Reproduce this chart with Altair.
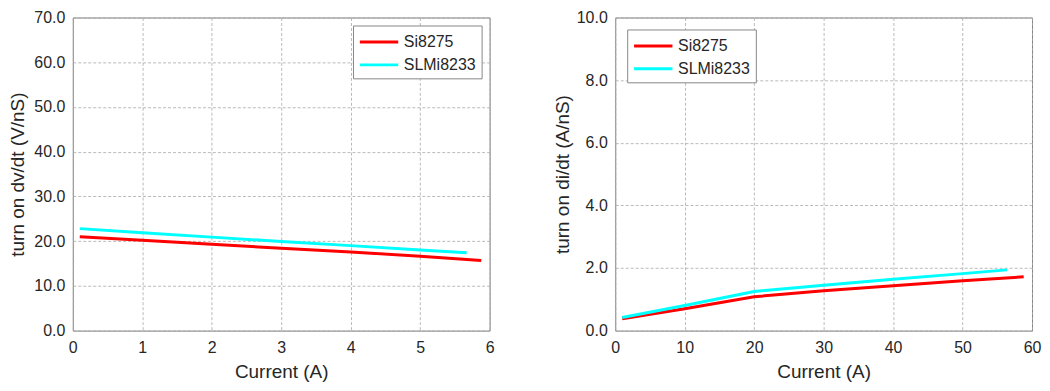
import altair as alt
import pandas as pd

series_names = ["Si8275", "SLMi8233"]
colors = ["#ff0000", "#00ffff"]

# Left: turn on dv/dt (V/nS) vs Current (A)
dv_si_x = [0.1, 1, 2, 3, 4, 5, 5.88]
dv_si_y = [21.0, 20.2, 19.3, 18.4, 17.6, 16.6, 15.7]
dv_slm_x = [0.1, 1, 2, 3, 4, 5, 5.67]
dv_slm_y = [22.8, 21.9, 20.9, 19.9, 19.0, 18.0, 17.4]

# Right: turn on di/dt (A/nS) vs Current (A)
di_si_x = [1, 10, 20, 30, 40, 50, 58.8]
di_si_y = [0.38, 0.70, 1.08, 1.27, 1.43, 1.59, 1.72]
di_slm_x = [1, 10, 20, 30, 40, 50, 56.4]
di_slm_y = [0.42, 0.80, 1.25, 1.45, 1.64, 1.82, 1.94]

left_x_ticks = [0, 1, 2, 3, 4, 5, 6]
left_y_ticks = [0, 10, 20, 30, 40, 50, 60, 70]
right_x_ticks = [0, 10, 20, 30, 40, 50, 60]
right_y_ticks = [0, 2, 4, 6, 8, 10]


def frame(pairs):
    rows = []
    for name, xs, ys in pairs:
        for i, (x, y) in enumerate(zip(xs, ys)):
            rows.append({"series": name, "x": x, "y": y, "order": i})
    return pd.DataFrame(rows)


df_left = frame([("Si8275", dv_si_x, dv_si_y), ("SLMi8233", dv_slm_x, dv_slm_y)])
df_right = frame([("Si8275", di_si_x, di_si_y), ("SLMi8233", di_slm_x, di_slm_y)])

FONT = "Liberation Sans"
TXT = "#262626"


def make_axis(values, fmt, title, is_y, title_pad):
    return alt.Axis(
        values=values,
        format=fmt,
        title=title,
        grid=True,
        gridColor="#a8a8a8",
        gridDash=[3, 2],
        gridWidth=0.8,
        domain=False,
        ticks=False,
        labelFont=FONT,
        labelFontSize=16,
        labelColor=TXT,
        labelPadding=8 if is_y else 9,
        titleFont=FONT,
        titleFontSize=19,
        titleFontWeight="normal",
        titleColor=TXT,
        titlePadding=title_pad,
        labelFlush=False,
        labelOverlap=False,
    )


def panel(df, xdom, ydom, xt, yt, ytitle, ytitle_pad, legend_orient, legend_off):
    return alt.Chart(df).mark_line(strokeWidth=3, clip=True).encode(
        x=alt.X("x:Q", scale=alt.Scale(domain=xdom, nice=False),
                axis=make_axis(xt, "d", "Current (A)", False, 7)),
        y=alt.Y("y:Q", scale=alt.Scale(domain=ydom, nice=False),
                axis=make_axis(yt, ".1f", ytitle, True, ytitle_pad)),
        color=alt.Color(
            "series:N",
            scale=alt.Scale(domain=series_names, range=colors),
            legend=alt.Legend(
                title=None,
                orient=legend_orient,
                offset=legend_off,
                symbolType="M-1,0H3",
                symbolStrokeWidth=3,
                symbolSize=370,
                labelFont=FONT,
                labelFontSize=16,
                labelColor=TXT,
                fillColor="white",
                strokeColor="#888888",
                padding=5,
                rowPadding=3,
                labelOffset=23,
            ),
        ),
        order="order:O",
    ).properties(width=418, height=314)


left = panel(df_left, [0, 6], [0, 70], left_x_ticks, left_y_ticks,
             "turn on dv/dt (V/nS)", 6, "top-right", 8)
right = panel(df_right, [0, 60], [0, 10], right_x_ticks, right_y_ticks,
              "turn on di/dt (A/nS)", 4, "top-left", 12)

chart = alt.hconcat(left, right, spacing=58).resolve_scale(
    color="independent"
).resolve_legend(color="independent").configure_view(
    stroke="#808080", strokeWidth=1
).properties(
    background="white",
    padding={"left": 0, "top": 0, "right": 0, "bottom": 0},
)

chart.save("out.html", embed_options={"renderer": "svg", "actions": False})
